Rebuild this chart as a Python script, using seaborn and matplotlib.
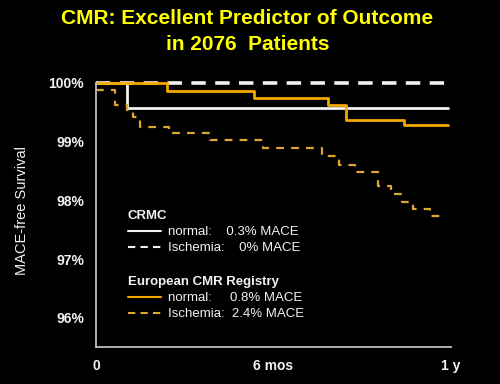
import numpy as np
import pandas as pd
import matplotlib
matplotlib.use('Agg')
import matplotlib.pyplot as plt
import seaborn as sns
from matplotlib.lines import Line2D

# months since scan vs MACE-free survival (%)
crmc_normal_t = [0, 1.05, 11.9]
crmc_normal_s = [100, 99.58, 99.58]
crmc_isch_t = [0, 12]
crmc_isch_s = [100, 100]
eu_normal_t = [0, 2.4, 5.34, 7.84, 8.45, 10.4, 11.9]
eu_normal_s = [100, 99.86, 99.75, 99.63, 99.37, 99.29, 99.29]
eu_isch_t = [0, 0.64, 1.05, 1.25, 1.49, 2.47, 3.85, 5.65, 7.64, 8.21, 8.76,
             9.53, 9.97, 10.34, 10.72, 11.29, 11.83]
eu_isch_s = [99.88, 99.63, 99.54, 99.42, 99.25, 99.14, 99.02, 98.90, 98.75,
             98.61, 98.49, 98.24, 98.10, 97.98, 97.85, 97.73, 97.73]

y_ticks = [96, 97, 98, 99, 100]
y_labels = ['96%', '97%', '98%', '99%', '100%']
x_ticks = [0, 3, 6, 9, 12]
x_labels = ['0', '', '6 mos', '', '1 y']

sns.set_style('dark')
plt.rcParams['font.family'] = ['Liberation Sans', 'DejaVu Sans']

white = '#f2f2f2'
orange = '#f2a900'
orange_dash = '#dca630'
axis_grey = '#bdbdbd'

fig = plt.figure(figsize=(5, 3.84), dpi=100, facecolor='black')
ax = fig.add_axes([0.192, 0.096, 0.71, 0.688])
ax.set_facecolor('black')

sns.lineplot(x=crmc_normal_t, y=crmc_normal_s, ax=ax, color=white, lw=2,
             drawstyle='steps-post', clip_on=False)
sns.lineplot(x=crmc_isch_t, y=crmc_isch_s, ax=ax, color=white, lw=2.6,
             drawstyle='steps-post', clip_on=False, dashes=False)
ax.lines[-1].set_dashes([4, 2.6])
sns.lineplot(x=eu_normal_t, y=eu_normal_s, ax=ax, color=orange, lw=2,
             drawstyle='steps-post', clip_on=False)
sns.lineplot(x=eu_isch_t, y=eu_isch_s, ax=ax, color=orange_dash, lw=1.6,
             drawstyle='steps-post', clip_on=False)
ax.lines[-1].set_dashes([3.5, 3.2])

ax.set_xlim(0, 12)
ax.set_ylim(95.5, 100)
ax.set_xticks(x_ticks)
ax.set_xticklabels(x_labels)
ax.set_yticks(y_ticks)
ax.set_yticklabels(y_labels)
ax.tick_params(colors=axis_grey, length=5, width=1.2, direction='out',
               labelcolor=white, labelsize=10)
for lab in ax.get_xticklabels() + ax.get_yticklabels():
    lab.set_fontweight('bold')
ax.grid(False)
for side in ['top', 'right']:
    ax.spines[side].set_visible(False)
for side in ['left', 'bottom']:
    ax.spines[side].set_visible(True)
    ax.spines[side].set_color(axis_grey)
    ax.spines[side].set_linewidth(1.3)

ax.set_ylabel('MACE-free Survival', color=white, fontsize=10.5)
ax.yaxis.set_label_coords(-0.189, 0.517)

fig.text(0.495, 0.917, 'CMR: Excellent Predictor of Outcome\nin 2076  Patients',
         ha='center', va='center', color='#ffff00', fontsize=15,
         fontweight='bold', linespacing=1.45)

leg_kw = dict(frameon=False, loc='upper left', fontsize=9.5, labelcolor=white,
              handlelength=2.5, handletextpad=0.55, labelspacing=0.28,
              borderpad=0, borderaxespad=0, alignment='left',
              title_fontproperties={'weight': 'bold', 'size': 9.5})
h1 = [Line2D([], [], color=white, lw=1.5),
      Line2D([], [], color=white, lw=1.5, dashes=[3.5, 2.5])]
leg1 = ax.legend(h1, ['normal:    0.3% MACE', 'Ischemia:    0% MACE'],
                 title='CRMC', bbox_to_anchor=(0.09, 0.518), **leg_kw)
leg1.get_title().set_color(white)
ax.add_artist(leg1)
h2 = [Line2D([], [], color=orange, lw=1.5),
      Line2D([], [], color=orange_dash, lw=1.5, dashes=[3.5, 2.5])]
leg2 = ax.legend(h2, ['normal:     0.8% MACE', 'Ischemia:  2.4% MACE'],
                 title='European CMR Registry', bbox_to_anchor=(0.09, 0.268),
                 **leg_kw)
leg2.get_title().set_color(white)

fig.savefig('out.png', dpi=100, facecolor='black')
